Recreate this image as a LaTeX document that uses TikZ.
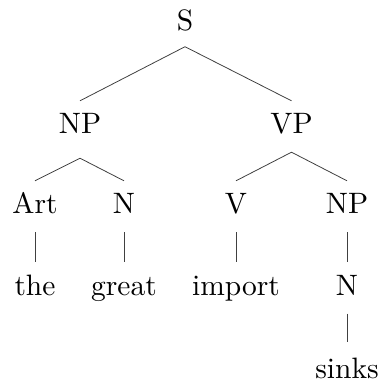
\documentclass[tikz,border=0pt]{standalone}
\usepackage{fontspec}
\setmainfont{lmroman10-regular.otf}
\begin{document}
\begin{tikzpicture}[x=1pt,y=-1pt,
  lab/.style={anchor=base,inner xsep=0pt,inner ysep=12.5pt,text height=20pt,text depth=6pt,
    font=\fontsize{29.5}{35}\selectfont},
  branch/.style={draw=black!75,line width=0.8pt}]
\useasboundingbox (0,0) rectangle (383,381);
\node[lab] (s) at (185,30.5) {S};
\node[lab] (np) at (80,133.5) {NP};
\node[lab] (vp) at (291.5,133.5) {VP};
\node[lab] (art) at (35,213.5) {Art};
\node[lab] (n1) at (124,213.5) {N};
\node[lab] (v) at (236,213.5) {V};
\node[lab] (np2) at (347,213.5) {NP};
\node[lab] (the) at (35,295) {the};
\node[lab] (great) at (124,295) {great};
\node[lab] (import) at (236,295) {import};
\node[lab] (n2) at (347,295) {N};
\node[lab,text depth=0pt,inner ysep=0pt] (sinks) at (347,378) {sinks};
\draw[branch] (np.north) -- ([yshift=2.5pt]s.south) -- (vp.north);
\draw[branch] (art.north) -- ([yshift=-6pt]np.south) -- (n1.north);
\draw[branch] (v.north) -- (vp.south) -- (np2.north);
\draw[branch] (art.south) -- (the.north);
\draw[branch] (n1.south) -- (great.north);
\draw[branch] (v.south) -- (import.north);
\draw[branch] (np2.south) -- (n2.north);
\draw[branch] (n2.south) -- ([yshift=16pt]sinks.north);
\end{tikzpicture}
\end{document}
